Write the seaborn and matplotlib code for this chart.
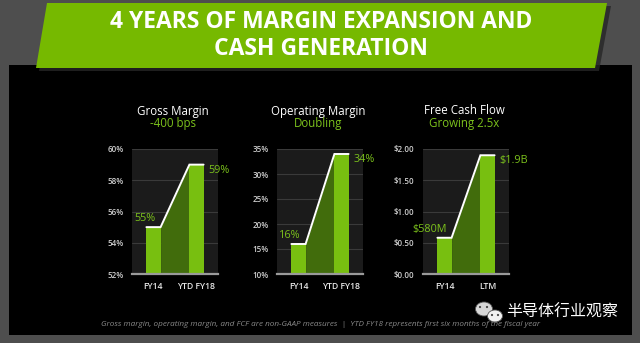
import matplotlib
matplotlib.use("Agg")
import matplotlib.pyplot as plt
from matplotlib.patches import Polygon, Rectangle, Ellipse
import seaborn as sns
import pandas as pd

# --- data -------------------------------------------------------------
margin_periods = ["FY14", "YTD FY18"]
fcf_periods = ["FY14", "LTM"]

gross_margin = [55, 59]            # %
operating_margin = [16, 34]        # %
free_cash_flow = [0.58, 1.9]       # $B

gross_labels = ["55%", "59%"]
operating_labels = ["16%", "34%"]
fcf_labels = ["$580M", "$1.9B"]

panel_titles = ["Gross Margin", "Operating Margin", "Free Cash Flow"]
panel_subtitles = ["-400 bps", "Doubling", "Growing 2.5x"]

gross_ticks = [52, 54, 56, 58, 60]
operating_ticks = [10, 15, 20, 25, 30, 35]
fcf_ticks = [0.0, 0.5, 1.0, 1.5, 2.0]

gross_ticklabels = ["52%", "54%", "56%", "58%", "60%"]
operating_ticklabels = ["10%", "15%", "20%", "25%", "30%", "35%"]
fcf_ticklabels = ["$0.00", "$0.50", "$1.00", "$1.50", "$2.00"]

headline = "4 YEARS OF MARGIN EXPANSION AND\nCASH GENERATION"
footnote = ("Gross margin, operating margin, and FCF are non-GAAP measures  |  "
            "YTD FY18 represents first six months of the fiscal year")
watermark = "半导体行业观察"

# --- style ------------------------------------------------------------
sns.set_theme(style="dark")
plt.rcParams["font.family"] = ["Open Sans", "DejaVu Sans"]

GREEN = "#78bf10"
TEXT_GREEN = "#7cc21c"
DARK_GREEN = "#416c0c"
AX_BG = "#1b1b1b"
GRID = "#3a3a3a"
BAR_W = 0.33

W, H = 640, 343
fig = plt.figure(figsize=(W / 100, H / 100), dpi=100)
fig.patch.set_facecolor("#4e4e4e")

# full-figure overlay in pixel coordinates for the slide decoration
deco = fig.add_axes([0, 0, 1, 1])
deco.set_xlim(0, W)
deco.set_ylim(H, 0)
deco.axis("off")
deco.add_patch(Rectangle((9, 65), 623, 270, facecolor="black", edgecolor="none"))
deco.add_patch(Polygon([(50, 6), (611, 6), (599, 71), (39, 71)],
                       closed=True, facecolor="#262626", edgecolor="none", alpha=0.8))
deco.add_patch(Polygon([(47, 3), (607, 3), (595, 68), (36, 68)],
                       closed=True, facecolor="#76b900", edgecolor="none"))
deco.text(321, 35.5, headline, ha="center", va="center", color="white",
          fontsize=16.5, fontweight="bold", linespacing=1.12)
deco.text(321, 324, footnote, ha="center", va="center", color="#8a8a8a",
          fontsize=5.9, style="italic")

# chat-bubble icon and account name
deco.add_patch(Ellipse((484, 309), 17, 14, facecolor="#d8d8d8", edgecolor="#555555", lw=0.6))
deco.add_patch(Ellipse((495, 316), 15, 12, facecolor="#f2f2f2", edgecolor="#555555", lw=0.6))
for cx, cy in [(480, 307), (487, 307), (492, 315), (498, 315)]:
    deco.add_patch(Ellipse((cx, cy), 2.2, 2.2, facecolor="#444444", edgecolor="none"))
deco.text(506, 312, watermark, ha="left", va="center", color="white",
          fontsize=11.5, family=["Noto Sans CJK SC", "DejaVu Sans"])

# --- the three bar panels ---------------------------------------------
panels = [
    (132, margin_periods, gross_margin, gross_labels, gross_ticks, gross_ticklabels),
    (277, margin_periods, operating_margin, operating_labels, operating_ticks, operating_ticklabels),
    (423, fcf_periods, free_cash_flow, fcf_labels, fcf_ticks, fcf_ticklabels),
]

ax_w, ax_top, ax_bot = 86, 149, 274
for i, (left, cats, vals, labels, ticks, ticklabels) in enumerate(panels):
    ax = fig.add_axes([left / W, (H - ax_bot) / H, ax_w / W, (ax_bot - ax_top) / H])
    ax.set_facecolor(AX_BG)
    df = pd.DataFrame({"period": cats, "value": vals})
    sns.barplot(data=df, x="period", y="value", ax=ax, color=GREEN,
                width=BAR_W, saturation=1, zorder=3, edgecolor="none", linewidth=0)

    lo, hi = ticks[0], ticks[-1]
    ax.set_ylim(lo, hi)
    ax.set_xlim(-0.5, 1.5)

    # shaded connector between the two bars and its white top edge
    ax.fill_between([BAR_W / 2, 1 - BAR_W / 2], [vals[0], vals[1]], lo,
                    color=DARK_GREEN, lw=0, zorder=2)
    ax.plot([-BAR_W / 2, BAR_W / 2, 1 - BAR_W / 2, 1 + BAR_W / 2],
            [vals[0], vals[0], vals[1], vals[1]],
            color="white", lw=1.4, zorder=4, solid_joinstyle="miter")

    # value labels
    ax.annotate(labels[0], xy=(0, vals[0]), xytext=(1.5, 2), textcoords="offset points",
                ha="right", va="bottom", color=TEXT_GREEN, fontsize=7.8, annotation_clip=False)
    ax.annotate(labels[1], xy=(1 + BAR_W / 2, vals[1]), xytext=(3.5, -4),
                textcoords="offset points", ha="left", va="center",
                color=TEXT_GREEN, fontsize=7.8, annotation_clip=False)

    ax.set_yticks(ticks)
    ax.set_yticklabels(ticklabels)
    ax.yaxis.grid(True, color=GRID, lw=0.8)
    ax.xaxis.grid(False)
    ax.set_axisbelow(True)
    ax.tick_params(axis="y", labelsize=5.8, colors="#cfcfcf", length=0, pad=6)
    ax.tick_params(axis="x", labelsize=6.2, colors="#e6e6e6", length=0, pad=6)
    for lab in ax.get_xticklabels() + ax.get_yticklabels():
        lab.set_fontweight("semibold")
    ax.set_xlabel("")
    ax.set_ylabel("")
    for side in ["top", "right", "left"]:
        ax.spines[side].set_visible(False)
    ax.spines["bottom"].set_color("#9a9a9a")
    ax.spines["bottom"].set_linewidth(1.6)
    ax.spines["bottom"].set_zorder(5)

    cx = left + ax_w / 2 - 2
    deco.text(cx, 111, panel_titles[i], ha="center", va="center",
              color="white", fontsize=8.3)
    deco.text(cx, 123.5, panel_subtitles[i], ha="center", va="center",
              color=TEXT_GREEN, fontsize=8.3)

deco.set_zorder(-1)
fig.savefig("out.png", dpi=100, facecolor=fig.get_facecolor())
